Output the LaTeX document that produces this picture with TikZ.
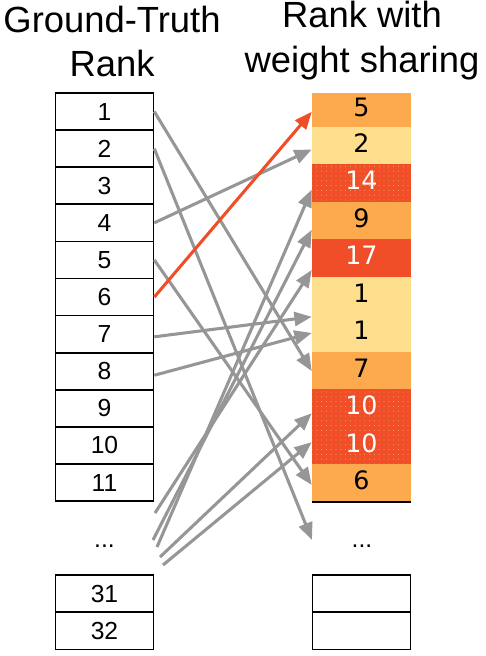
\documentclass[tikz,border=0pt]{standalone}
\usepackage{fontspec}
\setmainfont{Liberation Sans}
\newfontfamily\dejavu{DejaVu Sans}
\usetikzlibrary{arrows.meta,patterns.meta}
\definecolor{orc}{HTML}{FCAA4D}
\definecolor{yelc}{HTML}{FDDE8C}
\definecolor{redc}{HTML}{F04E28}
\definecolor{dotc}{HTML}{F9B850}
\definecolor{grayc}{HTML}{969696}
\tikzdeclarepattern{
  name=sparsedots,
  type=uncolored,
  bottom left={(-1pt,-1pt)},
  top right={(2pt,2pt)},
  tile size={(3.6pt,3.6pt)},
  code={\fill (0pt,0pt) circle (0.36pt);}
}
\tikzset{
  titletext/.style={anchor=base, inner sep=0pt, font=\fontsize{27.3}{32}\selectfont},
  lcell/.style={draw=black, line width=1.2pt, minimum width=73.5pt, minimum height=27.8pt, inner sep=0pt, font=\fontsize{18.5}{20}\selectfont},
  rcell/.style={minimum width=74.25pt, minimum height=28.125pt, inner sep=0pt, font=\dejavu\fontsize{19}{22}\selectfont},
  rfirst/.style={rcell, minimum height=25.3pt},
  rorange/.style={fill=orc},
  ryellow/.style={fill=yelc},
  rred/.style={fill=redc, text=white},
  rdots/.style={fill=redc, text=white, postaction={pattern=sparsedots, pattern color=dotc}},
  dotstext/.style={anchor=base, inner sep=0pt, font=\fontsize{18.5}{20}\selectfont},
  arr/.style={draw=grayc, line width=2.3pt, -{Triangle[length=13pt,width=10.5pt]}},
  redarr/.style={arr, draw=redc},
}
\begin{document}
\begin{tikzpicture}[x=0.75pt, y=-0.75pt]
\useasboundingbox (0,0) rectangle (485,656);
% titles
\node[titletext] (tl1) at (112,33) {Ground-Truth};
\node[titletext] (tl2) at (112,77) {Rank};
\node[titletext] (tr1) at (362,28) {Rank with};
\node[titletext] (tr2) at (362,73) {weight sharing};
% left column
\foreach \k in {1,...,11} {
  \node[lcell] (l\k) at (104.5, {93+37.1*(\k-0.5)}) {\k};
}
\node[dotstext] (ldots) at (104.5,547) {...};
\node[lcell] (l31) at (104.5,593.6) {31};
\node[lcell] (l32) at (104.5,630.8) {32};
% right column
\node[rfirst, rorange] (r1) at (361.5,109.85) {\raisebox{4pt}{5}};
\node[rcell, ryellow] (r2) at (361.5,145.45) {\raisebox{4pt}{2}};
\node[rcell, rdots] (r3) at (361.5,182.95) {\raisebox{4pt}{14}};
\node[rcell, rorange] (r4) at (361.5,220.45) {\raisebox{4pt}{9}};
\node[rcell, rred] (r5) at (361.5,257.95) {\raisebox{4pt}{17}};
\node[rcell, ryellow] (r6) at (361.5,295.45) {\raisebox{4pt}{1}};
\node[rcell, ryellow] (r7) at (361.5,332.95) {\raisebox{4pt}{1}};
\node[rcell, rorange] (r8) at (361.5,370.45) {\raisebox{4pt}{7}};
\node[rcell, rdots] (r9) at (361.5,407.95) {\raisebox{4pt}{10}};
\node[rcell, rdots] (r10) at (361.5,445.45) {\raisebox{4pt}{10}};
\node[rcell, rorange] (r11) at (361.5,482.95) {\raisebox{4pt}{6}};
\draw[black, line width=0.9pt] (r11.south west) -- (r11.south east);
\node[dotstext] (rdots) at (362,547) {...};
\node[lcell] (r31) at (361.5,593.6) {};
\node[lcell] (r32) at (361.5,630.8) {};
% free ends
\coordinate (d1) at (155,513);
\coordinate (d2) at (153,540);
\coordinate (d3) at (157,547);
\coordinate (d4) at (160,557);
\coordinate (d5) at (163,565);
\coordinate (te) at (312,540);
% connectors
\draw[arr] (l1.east) -- ([yshift=-0.5pt]r8.west);
\draw[arr] (l2.east) -- (te);
\draw[arr] (l4.east) -- ([yshift=-3pt]r2.west);
\draw[arr] (l5.east) -- ([yshift=-1.5pt]r11.west);
\draw[arr] ([yshift=-2pt]l7.east) -- ([yshift=-16pt]r6.west);
\draw[arr] ([yshift=-3pt]l8.east) -- (r7.west);
\draw[arr] (d1) -- ([yshift=-9pt]r5.west);
\draw[arr] (d2) -- ([yshift=-7pt]r4.west);
\draw[arr] (d3) -- ([yshift=-5pt]r3.west);
\draw[arr] (d4) -- ([yshift=-4pt]r9.west);
\draw[arr] (d5) -- ([yshift=2.5pt]r10.west);
\draw[redarr] (l6.east) -- ([yshift=-1.5pt]r1.west);
\end{tikzpicture}
\end{document}
